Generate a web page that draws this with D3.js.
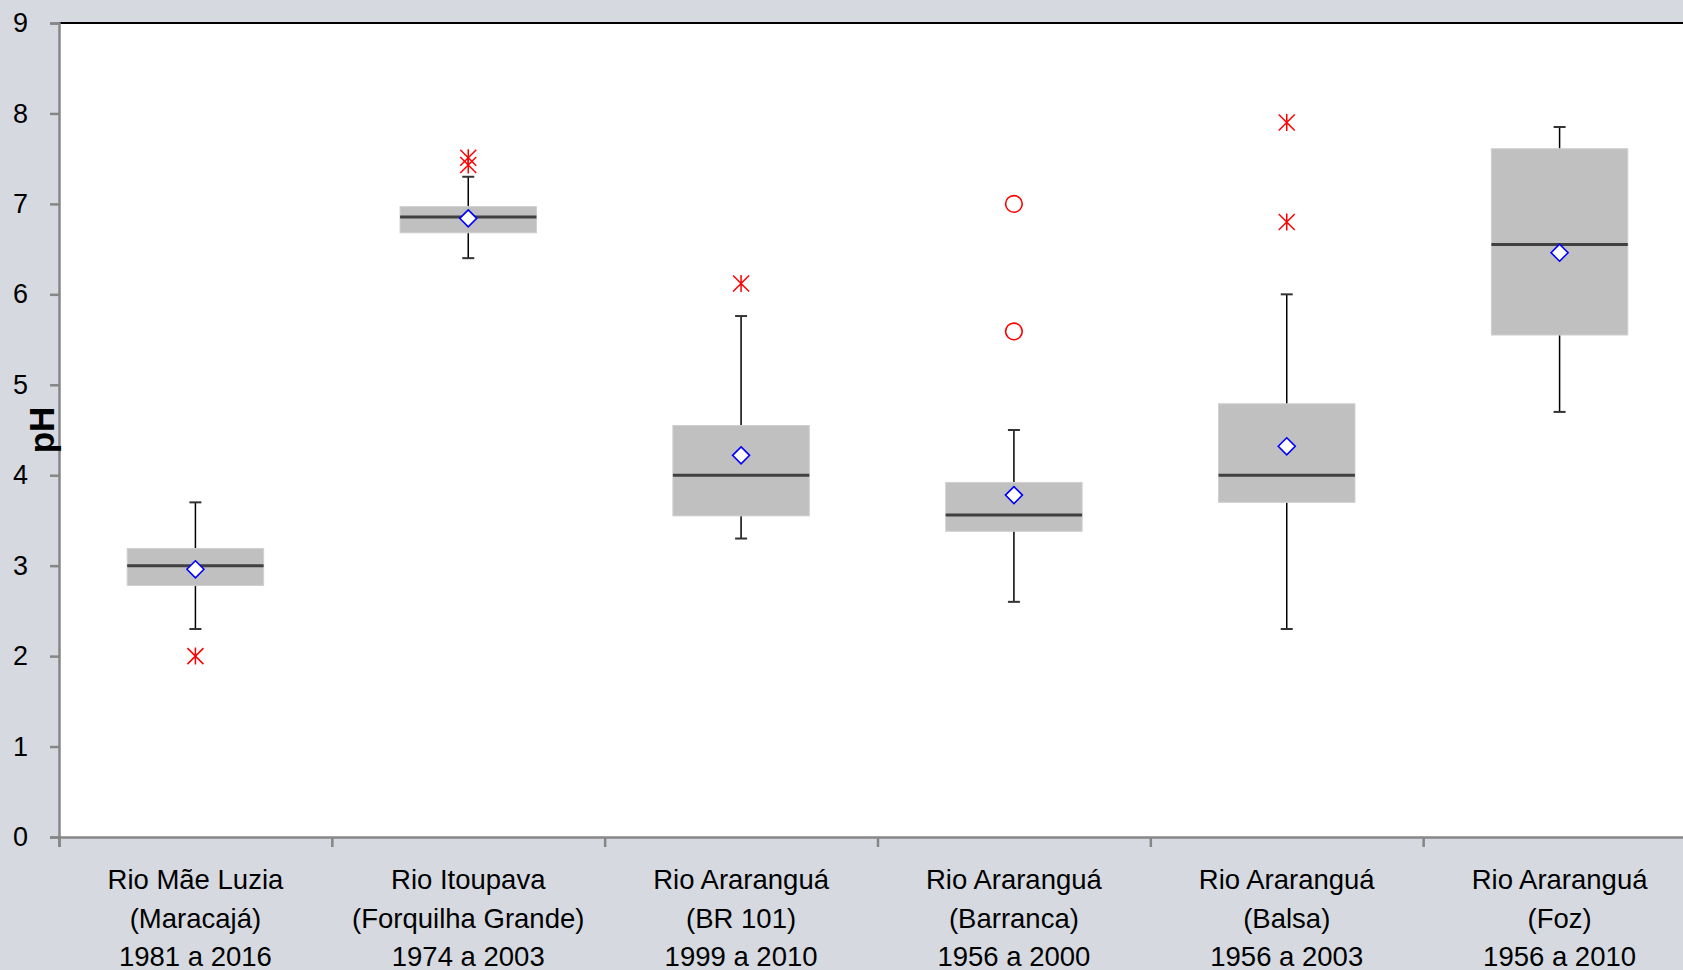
<!DOCTYPE html>
<head>
<meta charset="utf-8">
<script src="https://d3js.org/d3.v7.min.js"></script>
<style>
  body { margin: 0; background: #d6dae0; }
  svg { display: block; }
</style>
</head>
<body>
<svg width="1683" height="970" font-family="Carlito, Calibri, 'Liberation Sans', sans-serif"></svg>
<script>

// station labels, three lines each
let categories = [
  ["Rio Mãe Luzia", "(Maracajá)", "1981 a 2016"],
  ["Rio Itoupava", "(Forquilha Grande)", "1974 a 2003"],
  ["Rio Araranguá", "(BR 101)", "1999 a 2010"],
  ["Rio Araranguá", "(Barranca)", "1956 a 2000"],
  ["Rio Araranguá", "(Balsa)", "1956 a 2003"],
  ["Rio Araranguá", "(Foz)", "1956 a 2010"]
];

// box statistics (pH)
let whiskerLow  = [2.30, 6.40, 3.30, 2.60, 2.30, 4.70];
let q1          = [2.78, 6.68, 3.55, 3.38, 3.70, 5.55];
let median      = [3.00, 6.855, 4.00, 3.56, 4.00, 6.55];
let q3          = [3.19, 6.97, 4.55, 3.92, 4.79, 7.61];
let whiskerHigh = [3.70, 7.30, 5.76, 4.50, 6.00, 7.85];
let mean        = [2.96, 6.84, 4.22, 3.78, 4.32, 6.46];

// outliers: [category index, value]
let extremes = [[0, 2.0], [1, 7.51], [1, 7.43], [2, 6.12], [4, 6.8], [4, 7.9]];
let mild     = [[3, 7.0], [3, 5.59]];

let yTicks = [0, 1, 2, 3, 4, 5, 6, 7, 8, 9];

let svg = d3.select("svg");

let plotLeft = 59, plotTop = 23, plotBottom = 837, plotRight = 1696;

let x = d3.scaleBand()
    .domain(d3.range(categories.length))
    .range([plotLeft, plotRight]);

let xEdge = d3.scaleLinear()
    .domain([0, categories.length])
    .range([plotLeft, plotRight]);

let y = d3.scaleLinear()
    .domain([0, 9])
    .range([plotBottom, plotTop]);

let cx = function(i) { return x(i) + x.bandwidth() / 2; };
let boxW = x.bandwidth() * 0.5;

// plot area
svg.append("rect")
    .attr("x", plotLeft)
    .attr("y", plotTop)
    .attr("width", plotRight - plotLeft)
    .attr("height", plotBottom - plotTop)
    .attr("fill", "#fff");

svg.append("line")
    .attr("x1", plotLeft).attr("x2", plotRight)
    .attr("y1", plotTop).attr("y2", plotTop)
    .attr("stroke", "#000")
    .attr("stroke-width", 2);

// y axis
let yAxis = svg.append("g")
    .attr("transform", "translate(" + plotLeft + ",0)")
    .call(d3.axisLeft(y).tickValues(yTicks).tickSize(9).tickPadding(22).tickFormat(d3.format("d")));

yAxis.select(".domain").attr("stroke", "#868686").attr("stroke-width", 2.5);
yAxis.selectAll(".tick line").attr("stroke", "#868686").attr("stroke-width", 2.5);
yAxis.selectAll(".tick text")
    .attr("font-size", 27)
    .attr("font-family", "'Liberation Sans', sans-serif")
    .attr("fill", "#000");

// x axis (ticks between categories)
let xAxis = svg.append("g")
    .attr("transform", "translate(0," + plotBottom + ")")
    .call(d3.axisBottom(xEdge).ticks(categories.length).tickSize(10).tickFormat(""));

xAxis.select(".domain").attr("stroke", "#868686").attr("stroke-width", 2.5);
xAxis.selectAll(".tick line").attr("stroke", "#868686").attr("stroke-width", 2.5);

let labels = svg.append("g")
    .selectAll("text")
    .data(categories)
    .enter().append("text")
      .attr("x", function(d, i) { return cx(i); })
      .attr("y", 889)
      .attr("text-anchor", "middle")
      .attr("font-size", 27.5)
      .attr("font-family", "'Liberation Sans', sans-serif")
      .attr("fill", "#000");

labels.selectAll("tspan")
    .data(function(d) { return d; })
    .enter().append("tspan")
      .attr("x", function() { return this.parentNode.getAttribute("x"); })
      .attr("dy", function(d, j) { return j ? 38.5 : 0; })
      .text(function(d) { return d; });

svg.append("text")
    .attr("transform", "translate(54,430)rotate(-90)")
    .attr("text-anchor", "middle")
    .attr("font-size", 35)
    .attr("font-weight", "bold")
    .attr("font-family", "'Liberation Sans', sans-serif")
    .text("pH");

// boxes
let box = svg.append("g")
    .selectAll("g")
    .data(categories)
    .enter().append("g");

box.append("line")
    .attr("x1", function(d, i) { return cx(i); })
    .attr("x2", function(d, i) { return cx(i); })
    .attr("y1", function(d, i) { return y(whiskerHigh[i]); })
    .attr("y2", function(d, i) { return y(whiskerLow[i]); })
    .attr("stroke", "#000")
    .attr("stroke-width", 1.5);

box.selectAll(".cap")
    .data(function(d, i) { return [[i, whiskerHigh[i]], [i, whiskerLow[i]]]; })
    .enter().append("line")
      .attr("class", "cap")
      .attr("x1", function(d) { return cx(d[0]) - 6; })
      .attr("x2", function(d) { return cx(d[0]) + 6; })
      .attr("y1", function(d) { return y(d[1]); })
      .attr("y2", function(d) { return y(d[1]); })
      .attr("stroke", "#333")
      .attr("stroke-width", 2);

box.append("rect")
    .attr("x", function(d, i) { return cx(i) - boxW / 2; })
    .attr("y", function(d, i) { return y(q3[i]); })
    .attr("width", boxW)
    .attr("height", function(d, i) { return y(q1[i]) - y(q3[i]); })
    .attr("fill", "#c0c0c0")
    .attr("stroke", "#d0d0d0")
    .attr("stroke-width", 1);

box.append("line")
    .attr("x1", function(d, i) { return cx(i) - boxW / 2; })
    .attr("x2", function(d, i) { return cx(i) + boxW / 2; })
    .attr("y1", function(d, i) { return y(median[i]); })
    .attr("y2", function(d, i) { return y(median[i]); })
    .attr("stroke", "#404040")
    .attr("stroke-width", 3);

box.append("path")
    .attr("transform", function(d, i) { return "translate(" + cx(i) + "," + y(mean[i]) + ")"; })
    .attr("d", "M0,-8.5L8.5,0L0,8.5L-8.5,0Z")
    .attr("fill", "#fff")
    .attr("stroke", "#0000ff")
    .attr("stroke-width", 1.6);

// outliers
let star = "M0,-8.5V8.5M-8,-8L8,8M-8,8L8,-8";

svg.append("g")
    .selectAll("path")
    .data(extremes)
    .enter().append("path")
      .attr("transform", function(d) { return "translate(" + cx(d[0]) + "," + y(d[1]) + ")"; })
      .attr("d", star)
      .attr("fill", "none")
      .attr("stroke", "#ff0000")
      .attr("stroke-width", 1.5);

svg.append("g")
    .selectAll("circle")
    .data(mild)
    .enter().append("circle")
      .attr("cx", function(d) { return cx(d[0]); })
      .attr("cy", function(d) { return y(d[1]); })
      .attr("r", 8.3)
      .attr("fill", "none")
      .attr("stroke", "#ff0000")
      .attr("stroke-width", 1.6);

</script>
</body>
